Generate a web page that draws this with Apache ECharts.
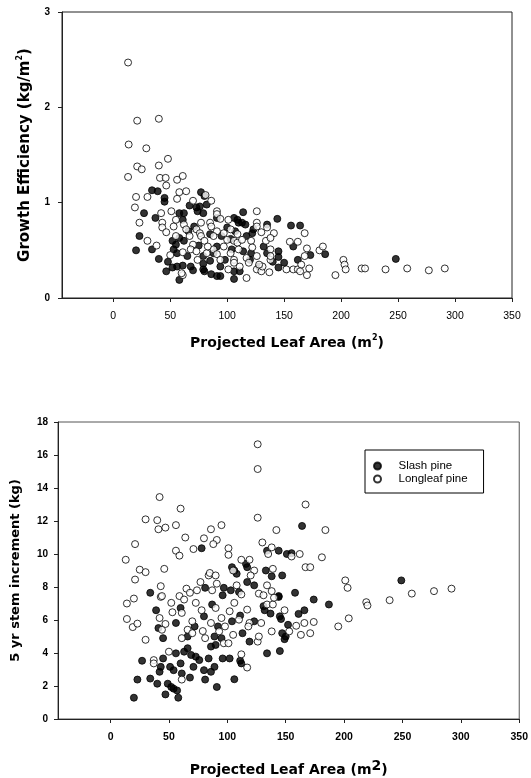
<!DOCTYPE html>
<html>
<head>
<meta charset="utf-8">
<script src="https://cdn.jsdelivr.net/npm/echarts@6/dist/echarts.min.js"></script>
<style>
html,body{margin:0;padding:0;background:#fff;}
#c{width:531px;height:778px;}
</style>
</head>
<body>
<div id="c"></div>
<script>
// Top panel: Growth efficiency vs projected leaf area  [leaf area, GE]
const geSlash = [[34,1.13],[39,1.12],[45,1.05],[45,1.01],[27,0.89],[37,0.84],[23,0.65],[20,0.50],[34,0.51],[58,0.89],[62,0.89],[61,0.82],[40,0.41],[48,0.38],[46.5,0.28],[52,0.32],[56,0.33],[58,0.19],[61,0.34],[53,0.51],[56,0.47],[58,0.63],[71,0.75],[77,1.11],[80,1.07],[67,0.97],[73,0.95],[76,0.96],[74,0.91],[79,0.89],[82,0.98],[91,0.84],[79,0.44],[85,0.39],[79,0.30],[80,0.28],[86,0.25],[91,0.23],[94,0.33],[106,0.84],[109,0.82],[110,0.79],[114,0.90],[113,0.79],[116,0.77],[107,0.70],[104,0.51],[106,0.20],[111,0.28],[114,0.49],[122,0.68],[123,0.72],[121,0.47],[135,0.77],[135,0.47],[132,0.54],[144,0.83],[145,0.49],[145,0.43],[145,0.32],[150,0.37],[156,0.76],[158,0.54],[162,0.40],[164,0.76],[173,0.45],[186,0.46],[248,0.41],[52,0.60],[55,0.56],[62,0.60],[95,0.65],[91,0.54],[85,0.67],[100,0.74],[117,0.65],[106,0.28],[94,0.23],[79,0.36],[68,0.33],[65,0.44],[70,0.29],[88,0.47],[98,0.40],[120,0.40],[128,0.33],[140,0.38],[103,0.62],[66,0.70],[75,0.55]];
const geLong = [[13,2.47],[21,1.86],[40,1.88],[13.5,1.61],[29,1.57],[21,1.38],[25,1.35],[40,1.39],[48,1.46],[13,1.27],[41,1.26],[46,1.26],[46.5,1.18],[56,1.24],[61,1.28],[58,1.11],[64,1.12],[56,1.04],[20,1.06],[19,0.95],[30,1.06],[23,0.79],[30,0.60],[38,0.55],[42,0.89],[43,0.79],[43,0.74],[46.5,0.69],[51,0.91],[55,0.82],[53,0.75],[62,0.77],[64,0.72],[50,0.45],[61,0.24],[61,0.48],[67,0.65],[70,1.02],[81,1.08],[86,1.02],[77,0.79],[73,0.72],[76,0.68],[85,0.79],[86,0.75],[91,0.91],[91,0.88],[94,0.83],[91,0.70],[88,0.65],[77,0.65],[80,0.60],[70,0.56],[68,0.51],[73,0.49],[82,0.47],[88,0.51],[91,0.46],[94,0.40],[97,0.54],[100,0.61],[101,0.82],[103,0.72],[106,0.60],[109,0.58],[103,0.47],[106,0.40],[101,0.30],[106,0.37],[111,0.33],[117,0.21],[117,0.42],[119,0.37],[121,0.60],[122,0.53],[126,0.91],[126,0.79],[126,0.75],[130,0.69],[135,0.74],[134,0.60],[138,0.51],[138,0.40],[126,0.44],[126,0.30],[130,0.28],[131,0.33],[128,0.35],[137,0.27],[141,0.68],[138,0.63],[138,0.44],[152,0.30],[155,0.59],[158,0.30],[162,0.30],[162,0.59],[165,0.35],[168,0.68],[168,0.44],[170,0.52],[172,0.31],[170,0.24],[164,0.28],[181,0.50],[184,0.54],[195,0.24],[202,0.40],[203,0.35],[204,0.30],[218,0.31],[221,0.31],[239,0.30],[258,0.31],[277,0.29],[291,0.31],[55,0.65],[83,0.54],[97,0.68],[109,0.67],[113,0.61],[110,0.51],[74,0.40],[60,0.26]];

// Bottom panel: 5 yr stem increment vs projected leaf area  [leaf area, kg]
const incSlash = [[78,10.35],[104,9.2],[106,9.0],[108,8.8],[116,9.4],[117,9.2],[117,8.3],[123,8.1],[134,10.2],[144,10.2],[151,10.0],[155,10.05],[133,9.0],[138,8.65],[147,8.7],[164,11.7],[249,8.4],[34,7.65],[97,7.95],[103,7.8],[158,7.65],[81,7.95],[144,7.4],[20,1.29],[23,2.39],[27,3.53],[34,2.45],[40,2.14],[42,2.86],[43,3.16],[45,3.67],[47,1.49],[49,2.14],[52,1.94],[54,1.84],[57,1.73],[58,1.29],[51,3.16],[54,2.96],[56,3.98],[60,3.37],[61,2.76],[68,2.51],[63,4.08],[66,4.29],[69,3.88],[71,3.16],[73,3.78],[76,3.57],[80,2.96],[81,2.39],[86,2.86],[89,3.16],[91,1.94],[96,3.67],[102,3.67],[106,2.41],[84,3.67],[86,4.39],[90,4.49],[111,3.53],[112,3.37],[119,4.69],[134,3.98],[145,4.12],[149,4.84],[147,5.2],[152,5.71],[161,6.37],[166,6.59],[174,7.24],[187,6.94],[39,6.59],[41,5.51],[45,4.9],[56,5.82],[60,6.73],[66,5.0],[72,5.61],[80,6.22],[87,6.94],[92,5.61],[89,5.0],[95,4.9],[104,5.92],[111,6.27],[113,5.2],[123,5.92],[131,6.84],[132,6.59],[144,7.45],[145,6.22],[146,6.06],[150,5.0],[137,6.39],[96,7.5],[110,7.7]];
const incLong = [[126,16.65],[126,15.15],[126,12.2],[42,13.45],[60,12.75],[30,12.1],[40,12.05],[41,11.5],[47,11.6],[56,11.75],[21,10.6],[13,9.65],[21,8.45],[25,9.05],[30,8.9],[43,8.05],[46,9.1],[56,10.2],[59,9.9],[64,11.0],[71,10.3],[80,10.95],[86,11.5],[95,11.75],[91,10.85],[88,10.6],[101,10.35],[101,9.95],[112,9.65],[119,9.65],[105,9.0],[123,9.0],[120,8.7],[130,10.7],[135,10.0],[138,10.4],[155,9.85],[162,10.0],[139,9.1],[134,8.1],[138,7.75],[142,11.45],[167,13.0],[184,11.45],[167,9.2],[171,9.2],[181,9.8],[201,8.4],[203,7.95],[258,7.6],[277,7.75],[292,7.9],[43,7.4],[77,8.3],[84,8.7],[85,8.85],[90,8.7],[91,8.2],[108,8.1],[112,7.55],[65,7.9],[68,7.65],[74,7.8],[87,7.8],[127,7.6],[131,7.5],[37,3.57],[37,3.37],[50,4.08],[61,2.39],[112,3.92],[117,3.12],[153,5.31],[159,5.65],[163,5.1],[166,5.82],[174,5.88],[171,5.2],[195,5.61],[204,6.10],[219,7.08],[220,6.88],[239,7.2],[14,7.0],[20,7.3],[14,6.06],[19,5.57],[23,5.78],[30,4.8],[42,6.12],[44,5.41],[47,5.76],[44,7.45],[52,7.04],[53,6.47],[61,6.43],[61,4.9],[59,7.45],[63,7.24],[66,5.41],[70,5.92],[70,5.2],[73,7.04],[78,6.59],[79,5.33],[81,4.9],[86,5.82],[90,6.73],[95,6.12],[98,5.61],[93,5.31],[97,4.59],[101,4.59],[105,5.1],[102,6.53],[106,7.04],[110,6.02],[117,6.63],[119,5.82],[118,5.61],[126,4.69],[127,5.0],[129,5.82],[134,6.94],[138,5.31],[139,6.94],[140,7.35],[149,6.59]];

const xTicks = [0,50,100,150,200,250,300,350];
const geTicks = [0,1,2,3];
const incTicks = [0,2,4,6,8,10,12,14,16,18];

const FONT = '"Liberation Sans", Arial, sans-serif';
const TFONT = '"DejaVu Sans", sans-serif';
const chart = echarts.init(document.getElementById('c'), null, {renderer:'canvas'});

function xAxis(gridIndex, boldLabels, name, rich, gap){
  return {
    type:'value', gridIndex, min:-45, max:350,
    axisLine:{show:true, onZero:false, lineStyle:{color:'#222', width:1}},
    axisTick:{show:true, length:4, customValues:xTicks, lineStyle:{color:'#222'}},
    axisLabel:{customValues:xTicks, color:'#000', fontFamily:FONT, fontSize:10.5, fontWeight: boldLabels?'bold':'normal', margin:13},
    splitLine:{show:false},
    name, nameLocation:'middle', nameGap:gap,
    nameTextStyle:{color:'#000', fontFamily:TFONT, fontSize:14, fontWeight:'bold', rich}
  };
}
function yAxis(gridIndex, max, ticks, name, rich, gap, margin){
  return {
    type:'value', gridIndex, min:0, max,
    axisLine:{show:true, onZero:false, lineStyle:{color:'#222', width:1}},
    axisTick:{show:true, length:4, customValues:ticks, lineStyle:{color:'#222'}},
    axisLabel:{customValues:ticks, color:'#000', fontFamily:FONT, fontSize:10, fontWeight:'bold', margin},
    splitLine:{show:false},
    name, nameLocation:'middle', nameGap:gap, nameRotate:90,
    nameTextStyle:{color:'#000', fontFamily:TFONT, fontSize:14, fontWeight:'bold', rich}
  };
}
const richTop = {
  b:{fontFamily:TFONT, fontSize:14, fontWeight:'bold', color:'#000', lineHeight:18},
  s:{fontFamily:TFONT, fontSize:8, fontWeight:'bold', color:'#000', lineHeight:8, verticalAlign:'top'}
};
const richY = {
  b:{fontFamily:TFONT, fontSize:15, fontWeight:'bold', color:'#000', lineHeight:18},
  s:{fontFamily:TFONT, fontSize:8, fontWeight:'bold', color:'#000', lineHeight:8, verticalAlign:'top'}
};
const richY2 = {
  b:{fontFamily:TFONT, fontSize:13, fontWeight:'bold', color:'#000', lineHeight:16}
};
const richBot = {
  b:{fontFamily:TFONT, fontSize:14, fontWeight:'bold', color:'#000', lineHeight:22},
  s:{fontFamily:TFONT, fontSize:14, fontWeight:'bold', color:'#000', lineHeight:14, verticalAlign:'top'}
};
const openStyle = {color:'#fff', borderColor:'#000', borderWidth:1};
const fillStyle = {color:'#000', borderColor:'#000', borderWidth:1};

chart.setOption({
  animation:false,
  backgroundColor:'#fff',
  grid:[
    {left:62, top:12, width:450, height:286, show:true, borderColor:'#222', borderWidth:1, backgroundColor:'transparent'},
    {left:58, top:422, width:462, height:297, show:true, borderColor:'#555', borderWidth:1, backgroundColor:'transparent'}
  ],
  xAxis:[
    xAxis(0, false, '{b|Projected Leaf Area (m}{s|2}{b|)}', richTop, 36),
    xAxis(1, true, '{b|Projected Leaf Area (m}{s|2}{b|)}', richBot, 40)
  ],
  yAxis:[
    yAxis(0, 3, geTicks, '{b|Growth Efficiency (kg/m}{s|2}{b|)}', richY, 28, 12),
    yAxis(1, 18, incTicks, '{b|5 yr stem increment (kg)}', richY2, 34, 10)
  ],
  legend:{
    show:true, left:365, top:450, orient:'vertical',
    data:[{name:'Slash pine', icon:'circle'},{name:'Longleaf pine', icon:'circle'}],
    itemWidth:32, itemHeight:7, itemGap:1,
    padding:[10,16,8,8],
    borderColor:'#000', borderWidth:1, backgroundColor:'#fff',
    textStyle:{fontFamily:FONT, fontSize:11.5, color:'#000', lineHeight:12},
    selectedMode:false
  },
  series:[
    {name:'Slash pine', type:'scatter', xAxisIndex:0, yAxisIndex:0, data:geSlash, symbol:'circle', symbolSize:7, itemStyle:fillStyle},
    {name:'Longleaf pine', type:'scatter', xAxisIndex:0, yAxisIndex:0, data:geLong, symbol:'circle', symbolSize:7, itemStyle:openStyle},
    {name:'Slash pine', type:'scatter', xAxisIndex:1, yAxisIndex:1, data:incSlash, symbol:'circle', symbolSize:7, itemStyle:fillStyle},
    {name:'Longleaf pine', type:'scatter', xAxisIndex:1, yAxisIndex:1, data:incLong, symbol:'circle', symbolSize:7, itemStyle:openStyle}
  ]
});
</script>
</body>
</html>
